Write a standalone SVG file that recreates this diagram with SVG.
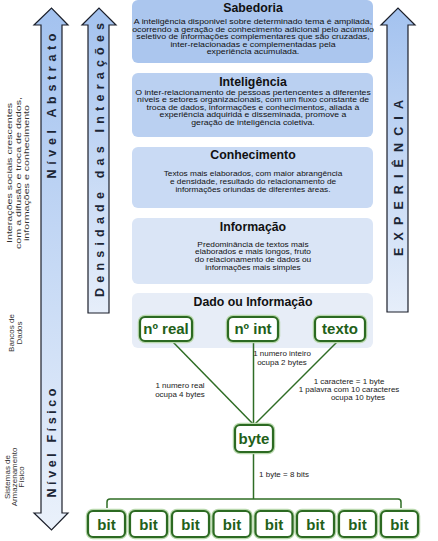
<svg xmlns="http://www.w3.org/2000/svg" width="438" height="541" viewBox="0 0 438 541">
<defs>
<linearGradient id="arrowGrad" x1="0" y1="0" x2="0" y2="1">
<stop offset="0" stop-color="#a3c2ef"/>
<stop offset="1" stop-color="#eaf1fb"/>
</linearGradient>
<linearGradient id="arrowGrad2" x1="0" y1="0" x2="0" y2="1">
<stop offset="0" stop-color="#a3c2ef"/>
<stop offset="1" stop-color="#e6eefa"/>
</linearGradient>
<style>
.arrow{stroke:#1b1f2a;stroke-width:1.2;stroke-linejoin:miter}
.atext{font-family:"Liberation Sans",Arial,sans-serif;font-weight:bold;font-size:12.5px;fill:#1c2636;text-anchor:middle}
.side{font-family:"Liberation Sans",Arial,sans-serif;font-size:8px;fill:#333;text-anchor:middle}
.box{stroke:none}
.title{font-family:"Liberation Sans",Arial,sans-serif;font-weight:bold;font-size:12.3px;fill:#111;text-anchor:middle}
.body{font-family:"Liberation Sans",Arial,sans-serif;font-size:8.4px;fill:#111;text-anchor:middle}
.gnode{fill:#fff;stroke:#2c6a22;stroke-width:2.2}
.glow{fill:none;stroke:#b9d8ad;stroke-width:4.5}
.gtext{font-family:"Liberation Sans",Arial,sans-serif;font-weight:bold;font-size:15px;fill:#226018;text-anchor:middle}
.conn{stroke:#2f6d25;stroke-width:1.5;fill:none}
.lbl{font-family:"Liberation Sans",Arial,sans-serif;font-size:8px;fill:#222;text-anchor:middle}
</style>
</defs>
<rect width="438" height="541" fill="#fff"/>

<g id="arrow-nivel">
<path class="arrow" fill="url(#arrowGrad)" d="M41,25 L34,25 L51.5,8 L68,25 L62,25 L62,513 L68,513 L51.5,530 L34,513 L41,513 Z"/>
<text class="atext" transform="translate(56,106) rotate(-90)" textLength="145" lengthAdjust="spacing">Nível Abstrato</text>
<text class="atext" transform="translate(56,443) rotate(-90)" textLength="109" lengthAdjust="spacing">Nível Físico</text>
</g>

<g id="arrow-densidade">
<path class="arrow" fill="url(#arrowGrad2)" d="M88,25 L82,25 L99,8 L116,25 L109,25 L109,313 L88,313 Z"/>
<text class="atext" transform="translate(103.5,160) rotate(-90)" textLength="274" lengthAdjust="spacing">Densidade das Interações</text>
</g>

<g id="arrow-experiencia">
<path class="arrow" fill="url(#arrowGrad2)" d="M387,25 L381,25 L398,8 L415,25 L408,25 L408,312 L387,312 Z"/>
<text class="atext" transform="translate(402.5,178) rotate(-90)" textLength="156" lengthAdjust="spacing">EXPERIÊNCIA</text>
</g>

<g id="side-labels">
<text class="side" transform="translate(12,173) rotate(-90)" textLength="140" lengthAdjust="spacingAndGlyphs">Interações sociais crescentes</text>
<text class="side" transform="translate(20.5,173) rotate(-90)" textLength="152" lengthAdjust="spacingAndGlyphs">com a difusão e troca de dados,</text>
<text class="side" transform="translate(29,173) rotate(-90)" textLength="136" lengthAdjust="spacingAndGlyphs">informações e conhecimento</text>
<text class="side" transform="translate(14,333) rotate(-90)">Bancos de</text>
<text class="side" transform="translate(21.5,333) rotate(-90)">Dados</text>
<text class="side" transform="translate(10,477) rotate(-90) scale(1,0.9)">Sistemas de</text>
<text class="side" transform="translate(17,477) rotate(-90) scale(1,0.9)">Armazenamento</text>
<text class="side" transform="translate(24,477) rotate(-90) scale(1,0.9)">Físico</text>
</g>

<g id="sabedoria">
<rect class="box" x="132" y="0" width="241" height="63" rx="6" fill="#abc6ee"/>
<text class="title" x="253" y="11.5">Sabedoria</text>
<text class="body" transform="translate(253,24) scale(1.045,0.78)">A inteligência disponivel sobre determinado tema é ampliada,</text>
<text class="body" transform="translate(253,31.5) scale(1.045,0.78)">ocorrendo a geração de conhecimento adicional pelo acúmulo</text>
<text class="body" transform="translate(253,39) scale(1.045,0.78)">seletivo de informações complementares que são cruzadas,</text>
<text class="body" transform="translate(253,46.5) scale(1.045,0.78)">inter-relacionadas e complementadas pela</text>
<text class="body" transform="translate(253,54) scale(1.045,0.78)">experiência acumulada.</text>
</g>

<g id="inteligencia">
<rect class="box" x="132" y="73" width="241" height="64" rx="6" fill="#bad0f1"/>
<text class="title" x="253" y="85.5">Inteligência</text>
<text class="body" transform="translate(253,94.5) scale(1.035,0.78)">O inter-relacionamento de pessoas pertencentes a diferentes</text>
<text class="body" transform="translate(253,102) scale(1.035,0.78)">níveis e setores organizacionais, com um fluxo constante de</text>
<text class="body" transform="translate(253,109.5) scale(1.035,0.78)">troca de dados, informações e conhecimentos, aliada à</text>
<text class="body" transform="translate(253,117) scale(1.035,0.78)">experiência adquirida e disseminada, promove a</text>
<text class="body" transform="translate(253,125) scale(1.035,0.78)">geração de inteligência coletiva.</text>
</g>

<g id="conhecimento">
<rect class="box" x="132" y="147" width="241" height="61" rx="6" fill="#c9daf4"/>
<text class="title" x="253" y="159">Conhecimento</text>
<text class="body" transform="translate(253,176) scale(0.99,0.82)">Textos mais elaborados, com maior abrangência</text>
<text class="body" transform="translate(253,184) scale(0.99,0.82)">e densidade, resultado do relacionamento de</text>
<text class="body" transform="translate(253,192) scale(0.99,0.82)">informações oriundas de diferentes áreas.</text>
</g>

<g id="informacao">
<rect class="box" x="132" y="218" width="241" height="66" rx="6" fill="#dae5f6"/>
<text class="title" x="253" y="230.5">Informação</text>
<text class="body" transform="translate(253,246.5) scale(0.99,0.82)">Predominância de textos mais</text>
<text class="body" transform="translate(253,254) scale(0.99,0.82)">elaborados e mais longos, fruto</text>
<text class="body" transform="translate(253,261.5) scale(0.99,0.82)">do relacionamento de dados ou</text>
<text class="body" transform="translate(253,269.5) scale(0.99,0.82)">informações mais simples</text>
</g>

<g id="dado">
<rect class="box" x="132" y="293" width="241" height="55" rx="6" fill="#e7edf7"/>
<text class="title" x="253" y="305.5">Dado ou Informação</text>
</g>

<g id="connectors">
<line class="conn" x1="172" y1="341" x2="254" y2="425"/>
<line class="conn" x1="253.5" y1="341" x2="253.5" y2="425"/>
<line class="conn" x1="338" y1="341" x2="254" y2="425"/>
<line class="conn" x1="253.5" y1="452" x2="253.5" y2="499"/>
<path class="conn" d="M107,508 L107,502 Q107,499 110,499 L398,499 Q401,499 401,502 L401,508"/>
<text class="lbl" transform="translate(282,356) scale(1,0.85)">1 numero inteiro</text>
<text class="lbl" transform="translate(282,364.5) scale(1,0.85)">ocupa 2 bytes</text>
<text class="lbl" transform="translate(180,388) scale(1,0.85)">1 numero real</text>
<text class="lbl" transform="translate(180,396.5) scale(1,0.85)">ocupa 4 bytes</text>
<text class="lbl" transform="translate(349,384) scale(1,0.85)">1 caractere = 1 byte</text>
<text class="lbl" transform="translate(349,392) scale(1,0.85)">1 palavra com 10 caracteres</text>
<text class="lbl" transform="translate(358,400) scale(1,0.85)">ocupa 10 bytes</text>
<text class="lbl" transform="translate(284,477) scale(1,0.85)">1 byte = 8 bits</text>
</g>

<g id="node-real">
<rect class="glow" x="140" y="317" width="52" height="24" rx="5"/>
<rect class="gnode" x="140" y="317" width="52" height="24" rx="5"/>
<text class="gtext" x="166" y="334">nº real</text>
</g>
<g id="node-int">
<rect class="glow" x="228" y="317" width="50" height="24" rx="5"/>
<rect class="gnode" x="228" y="317" width="50" height="24" rx="5"/>
<text class="gtext" x="253" y="334">nº int</text>
</g>
<g id="node-texto">
<rect class="glow" x="315" y="317" width="50" height="24" rx="5"/>
<rect class="gnode" x="315" y="317" width="50" height="24" rx="5"/>
<text class="gtext" x="340" y="334">texto</text>
</g>
<g id="node-byte">
<rect class="glow" x="235" y="425" width="38" height="27" rx="5"/>
<rect class="gnode" x="235" y="425" width="38" height="27" rx="5"/>
<text class="gtext" x="254" y="443.5">byte</text>
</g>

<g id="bit1"><rect class="glow" x="88" y="511" width="37" height="26" rx="5"/><rect class="gnode" x="88" y="511" width="37" height="26" rx="5"/><text class="gtext" x="106.5" y="529.5">bit</text></g>
<g id="bit2"><rect class="glow" x="130" y="511" width="37" height="26" rx="5"/><rect class="gnode" x="130" y="511" width="37" height="26" rx="5"/><text class="gtext" x="148.5" y="529.5">bit</text></g>
<g id="bit3"><rect class="glow" x="172" y="511" width="37" height="26" rx="5"/><rect class="gnode" x="172" y="511" width="37" height="26" rx="5"/><text class="gtext" x="190.5" y="529.5">bit</text></g>
<g id="bit4"><rect class="glow" x="213.5" y="511" width="37" height="26" rx="5"/><rect class="gnode" x="213.5" y="511" width="37" height="26" rx="5"/><text class="gtext" x="232" y="529.5">bit</text></g>
<g id="bit5"><rect class="glow" x="255.5" y="511" width="37" height="26" rx="5"/><rect class="gnode" x="255.5" y="511" width="37" height="26" rx="5"/><text class="gtext" x="274" y="529.5">bit</text></g>
<g id="bit6"><rect class="glow" x="297" y="511" width="37" height="26" rx="5"/><rect class="gnode" x="297" y="511" width="37" height="26" rx="5"/><text class="gtext" x="315.5" y="529.5">bit</text></g>
<g id="bit7"><rect class="glow" x="339" y="511" width="37" height="26" rx="5"/><rect class="gnode" x="339" y="511" width="37" height="26" rx="5"/><text class="gtext" x="357.5" y="529.5">bit</text></g>
<g id="bit8"><rect class="glow" x="381" y="511" width="37" height="26" rx="5"/><rect class="gnode" x="381" y="511" width="37" height="26" rx="5"/><text class="gtext" x="399.5" y="529.5">bit</text></g>
</svg>
